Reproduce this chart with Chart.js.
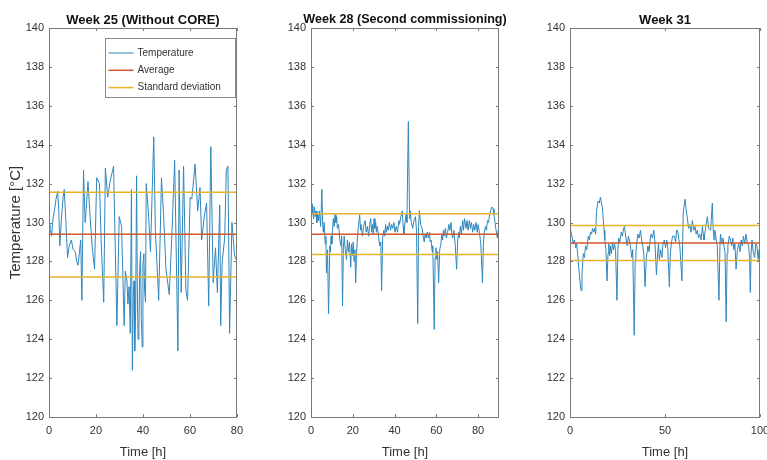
<!DOCTYPE html>
<html lang="en">
<head>
<meta charset="UTF-8">
<title>Temperature, weeks 25 / 28 / 31</title>
<script src="https://cdn.jsdelivr.net/npm/chart.js"></script>
<style>
  html, body { margin: 0; padding: 0; background: #fff; overflow: hidden; }
  body { width: 767px; height: 460px; position: relative; }
  .panel { position: absolute; top: 0; }
</style>
</head>
<body>
<div class="panel" style="left:0px"><canvas id="week25" width="250" height="460"></canvas></div>
<div class="panel" style="left:260px"><canvas id="week28" width="250" height="460"></canvas></div>
<div class="panel" style="left:520px"><canvas id="week31" width="260" height="460"></canvas></div>
<script>
// values
const week25Time = [0, 0.4, 1.1, 1.7, 2.3, 3.0, 3.7, 4.2, 4.6, 5.3, 6.0, 6.5, 7.2, 7.9, 8.6, 9.5, 10.3, 11.2, 11.8, 12.4,
  13.5, 14.0, 14.7, 15.4, 16.0, 16.6, 17.5, 18.5, 19.4, 20.3, 21.5, 22.2, 23.3, 24.0, 25.0, 26.0, 27.5, 28.9, 29.9, 30.9,
  32.0, 32.5, 33.2, 33.6, 34.1, 34.6, 35.1, 35.5, 35.9, 36.2, 36.5, 36.9, 37.3, 37.6, 37.9, 38.3, 38.6, 39.0, 39.3, 39.7,
  40.0, 40.4, 40.7, 41.1, 41.4, 42.3, 43.2, 44.6, 45.3, 46.7,
  47.9, 48.8, 49.8, 51.2, 52.4, 53.5, 54.9, 55.4, 56.3, 57.3, 58.3, 59.0, 60.1, 60.8, 62.2, 63.3, 64.3, 65.0, 66.1, 67.1,
  68.0, 68.9, 69.9, 70.9, 71.7, 72.7, 73.1, 73.7, 74.8, 75.5, 76.2, 76.9, 77.9, 79.0, 80.0];
const week25Temp = [129.9, 129.7, 129.3, 130.2, 130.6, 131.2, 131.6, 130.5, 128.8, 130.2, 131.3, 131.7, 130.0, 128.2, 128.8, 129.1, 128.6, 128.5, 128.0, 127.8,
  129.1, 126.0, 132.7, 130.0, 131.0, 132.1, 130.3, 128.6, 127.6, 132.3, 132.0, 129.1, 125.9, 132.8, 131.3, 132.1, 132.9, 124.7, 130.3, 129.8,
  124.7, 127.5, 127.0, 125.8, 126.7, 124.3, 131.7, 122.4, 126.2, 127.0, 123.4, 125.5, 132.4, 126.8, 124.0, 124.5, 127.5, 128.5, 125.0, 123.6,
  127.8, 128.4, 126.5, 125.9, 132.0, 130.6, 128.5, 134.4, 129.6, 126.0,
  132.3, 130.4, 127.6, 126.3, 129.6, 133.2, 123.4, 132.7, 126.4, 132.9, 126.5, 126.0, 131.3, 131.2, 133.0, 130.6, 131.8, 129.1, 130.3, 131.0,
  125.7, 133.9, 126.9, 128.7, 126.4, 130.9, 124.7, 127.9, 129.2, 132.7, 132.9, 124.3, 130.0, 128.3, 128.0];
const week25Avg = 129.4;
const week25SdHigh = 131.55;
const week25SdLow = 127.2;

const week28Time = [0, 0.4, 0.8, 1.2, 1.6, 2.0, 2.4, 2.8, 3.2, 3.6, 4.0, 4.6, 5.2, 5.6, 5.9, 6.3, 6.8, 7.1, 7.4, 7.9,
  8.4, 9.0, 9.3, 9.6, 10.0, 10.3, 10.7, 11.1, 11.5, 11.9, 12.3, 12.6, 13.2, 13.7, 14.3, 14.7, 15.1, 15.5, 15.9, 16.4,
  17.0, 17.4, 17.9, 18.4, 19.0, 19.4, 19.8, 20.2, 20.6, 21.0, 21.4, 21.8, 22.2, 22.7, 23.3, 23.7, 24.0, 24.6, 25.2, 25.9,
  26.4, 27.0, 27.6, 28.1, 28.6, 29.0, 29.4, 29.8, 30.2, 30.6, 31.0, 31.3, 31.7, 32.3, 32.9, 33.4, 33.8, 34.3, 34.9, 35.3,
  35.7, 36.1, 36.5, 37.0, 37.5, 38.1, 38.6, 39.1, 39.7, 40.2, 40.8, 41.4, 42.1, 42.4, 43.0, 43.7, 44.1, 44.5, 45.0, 45.5,
  45.9, 46.6, 47.2, 47.5, 48.0, 48.7, 49.3, 50.0, 50.5, 51.1, 51.5, 51.9, 52.5, 53.2, 53.7, 54.2, 54.6, 55.1, 55.6, 56.2,
  56.7, 57.1, 57.5, 58.0, 58.3, 59.0, 59.4, 59.8, 60.2, 60.6, 61.1, 61.6, 62.2, 62.6, 63.0, 63.4, 63.8, 64.3, 64.8, 65.4,
  66.0, 66.5, 67.0, 67.4, 67.8, 68.4, 69.0, 69.7, 70.2, 70.6, 71.0, 71.5, 72.0, 72.6, 73.0, 73.5, 74.2, 74.7, 75.2, 75.8,
  76.3, 76.8, 77.4, 77.9, 78.4, 79.0, 79.6, 80.0, 80.5, 81.3, 82.1, 82.5, 82.9, 83.5, 84.0, 84.5, 85.0, 85.5, 86.0, 86.5,
  87.2, 87.6, 88.1, 88.6, 89.2, 89.6, 90.0];
const week28Temp = [131.0, 130.4, 130.9, 130.2, 130.8, 130.3, 130.6, 130.0, 130.5, 130.1, 130.6, 129.8, 131.7, 129.9, 129.5, 130.0, 128.9, 129.3, 127.4, 128.6,
  125.3, 128.8, 128.5, 129.3, 128.9, 129.6, 130.2, 129.8, 130.4, 130.0, 130.3, 129.7, 129.9, 129.2, 128.8, 129.3, 125.7, 128.7, 129.3, 128.6,
  128.1, 129.1, 128.5, 129.0, 127.7, 128.9, 128.3, 129.0, 128.0, 128.6, 126.9, 128.4, 129.2, 129.8, 130.4, 129.6, 129.9, 129.3, 129.8, 130.1,
  129.5, 129.8, 129.3, 129.9, 130.2, 129.5, 129.9, 129.4, 130.2, 129.7, 130.0, 129.5, 129.8, 129.3, 128.8, 129.0, 126.5, 129.2, 129.6, 129.3,
  129.9, 129.5, 129.8, 129.6, 130.0, 129.6, 129.9, 129.7, 130.0, 129.5, 129.8, 129.5, 130.1, 129.9, 130.3, 130.6, 129.8, 129.4, 130.0, 130.4,
  130.0, 135.2, 130.2, 130.6, 130.0, 129.7, 130.1, 130.3, 129.6, 124.8, 129.8, 130.6, 129.9, 129.7, 129.3, 129.0, 129.4, 129.2, 129.5, 129.2,
  129.5, 129.0, 129.1, 128.5, 128.8, 124.5, 128.2, 128.7, 128.1, 128.5, 126.9, 128.6, 128.9, 129.4, 129.1, 129.6, 129.3, 129.7, 129.2, 129.5,
  129.9, 129.6, 130.0, 129.4, 129.2, 129.6, 128.9, 127.6, 129.0, 129.5, 129.2, 129.8, 129.4, 130.1, 129.6, 130.2, 129.7, 130.1, 129.6, 130.1,
  129.7, 130.0, 129.5, 129.9, 129.6, 130.0, 129.5, 129.9, 129.6, 128.9, 126.9, 128.8, 129.4, 129.8, 129.6, 130.1, 130.0, 130.4, 130.6, 130.8,
  130.7, 130.4, 130.0, 129.6, 129.2, 129.6, 129.5];
const week28Avg = 129.4;
const week28SdHigh = 130.45;
const week28SdLow = 128.35;

const week31Time = [0, 0.6, 1.2, 1.7, 2.3, 3.0, 3.5, 4.1, 4.7, 5.2, 5.8, 6.3, 7.0, 7.6, 8.2, 8.8, 9.6, 10.2, 10.8, 11.3,
  11.9, 12.5, 13.1, 13.5, 13.9, 14.4, 14.8, 15.4, 16.0, 16.6, 17.0, 17.4, 17.9, 18.3, 18.9, 19.5, 20.0, 20.4, 20.9, 21.3,
  21.8, 22.4, 22.9, 23.5, 24.0, 24.7, 25.2, 25.6, 26.2, 27.0, 27.6, 28.2, 28.7, 29.3, 30.1, 30.7, 31.3, 31.9, 32.5, 33.0,
  33.8, 34.3, 34.7, 35.2, 35.7, 36.4, 37.1, 37.7, 38.3, 38.9, 39.5, 40.2, 41.0, 41.6, 42.2, 42.7, 43.4, 44.1, 44.7, 45.5,
  46.1, 46.6, 47.0, 47.7, 48.4, 48.8, 49.6, 50.3, 50.9, 51.4, 52.3, 52.8, 53.3, 54.0, 54.9, 55.6, 56.1, 56.6, 57.2, 57.8,
  58.9, 59.3, 59.6, 60.1, 60.6, 61.2, 61.8, 62.4, 63.0, 63.7, 64.4, 65.1, 65.8, 66.4, 67.0, 67.6, 68.3, 69.0, 69.7, 70.1,
  70.5, 71.2, 72.3, 73.0, 74.0, 74.9, 75.3, 75.8, 76.2, 76.6, 77.1, 77.5, 78.4, 78.9, 79.2, 80.0, 80.5, 81.0, 81.6, 82.2,
  82.7, 83.1, 83.8, 84.5, 85.1, 85.7, 86.2, 86.8, 87.4, 88.1, 88.8, 89.5, 90.1, 90.6, 91.3, 91.9, 92.6, 93.2, 94.0, 94.5,
  94.9, 95.3, 95.8, 96.4, 97.2, 97.8, 98.4, 99.0, 99.5, 100];
const week31Temp = [129.8, 129.5, 129.2, 128.9, 129.1, 128.7, 128.9, 128.3, 127.6, 127.0, 126.5, 127.4, 128.4, 128.2, 128.8, 128.6, 129.3, 129.1, 129.5, 129.4,
  129.7, 129.5, 129.7, 129.4, 130.5, 130.9, 131.1, 131.0, 131.3, 131.0, 130.8, 130.3, 129.6, 129.1, 128.6, 127.0, 128.4, 128.9, 128.3, 128.8,
  128.4, 129.0, 128.6, 128.9, 128.5, 126.0, 128.6, 129.2, 129.0, 129.5, 129.3, 129.7, 129.8, 129.3, 128.8, 129.3, 129.1, 128.7, 128.2, 128.6,
  124.2, 128.0, 128.5, 129.0, 129.4, 129.2, 129.6, 129.1, 128.8, 128.3, 126.7, 128.2, 128.8, 128.5, 129.1, 129.4, 129.2, 129.6, 129.0, 127.3,
  128.4, 128.9, 128.1, 128.6, 128.2, 128.8, 129.1, 128.7, 129.1, 128.8, 126.7, 128.4, 128.9, 129.3, 129.3, 129.0, 129.6, 129.6, 129.2, 128.8,
  127.0, 129.0, 130.5, 130.9, 131.2, 130.6, 130.2, 129.7, 129.9, 129.5, 130.1, 129.6, 129.8, 129.4, 129.6, 129.2, 129.4, 129.1, 129.8, 129.4,
  129.1, 129.6, 130.3, 129.7, 129.6, 131.0, 129.8, 129.1, 129.6, 129.4, 129.0, 128.8, 126.0, 128.7, 129.4, 128.9, 129.2, 128.8, 128.5, 124.9,
  128.4, 128.8, 129.3, 129.1, 128.8, 129.2, 128.6, 128.9, 127.6, 128.6, 128.9, 128.5, 129.1, 128.8, 129.3, 128.9, 129.4, 129.0, 128.8, 128.2,
  126.4, 128.4, 129.1, 128.5, 128.2, 128.9, 128.8, 128.1, 128.6, 128.4];
const week31Avg = 128.95;
const week31SdHigh = 129.85;
const week31SdLow = 128.05;

const yTicks = [120, 122, 124, 126, 128, 130, 132, 134, 136, 138, 140];
const xTicks25 = [0, 20, 40, 60, 80];
const xTicks28 = [0, 20, 40, 60, 80];
const xTicks31 = [0, 50, 100];
const legendLabels = ['Temperature', 'Average', 'Standard deviation'];

const tempColor = '#2f86bd';
const avgColor = '#d4562a';
const sdColor = '#e8b22a';
const textColor = '#333333';
const boxColor = '#7a7a7a';
const fontFamily = "'Liberation Sans', Arial, sans-serif";

Chart.defaults.font.family = fontFamily;
Chart.defaults.color = textColor;

// MATLAB style box with inward ticks
const framePlugin = {
  id: 'frame',
  afterDatasetsDraw(chart) {
    const { ctx, chartArea: a, scales: { x, y } } = chart;
    ctx.save();
    ctx.strokeStyle = boxColor;
    ctx.lineWidth = 1;
    ctx.beginPath();
    x.ticks.forEach(t => {
      const px = Math.round(x.getPixelForValue(t.value)) + 0.5;
      ctx.moveTo(px, a.bottom); ctx.lineTo(px, a.bottom - 3);
      ctx.moveTo(px, a.top); ctx.lineTo(px, a.top + 3);
    });
    y.ticks.forEach(t => {
      const py = Math.round(y.getPixelForValue(t.value)) + 0.5;
      ctx.moveTo(a.left, py); ctx.lineTo(a.left + 3, py);
      ctx.moveTo(a.right, py); ctx.lineTo(a.right - 3, py);
    });
    ctx.stroke();
    ctx.strokeRect(Math.round(a.left) + 0.5, Math.round(a.top) + 0.5,
      Math.round(a.right - a.left) - 1, Math.round(a.bottom - a.top));
    ctx.restore();
  }
};

// panel title centred over the plot box (may run wider than the box)
const panelTitle = {
  id: 'panelTitle',
  afterDraw(chart, args, opts) {
    const { ctx, chartArea: a } = chart;
    ctx.save();
    ctx.font = 'bold ' + opts.size + 'px ' + fontFamily;
    ctx.fillStyle = '#111';
    ctx.textAlign = 'center';
    ctx.textBaseline = 'alphabetic';
    ctx.fillText(opts.text, (a.left + a.right) / 2, a.top - opts.lift);
    ctx.restore();
  }
};

// legend box inside the first panel
const boxLegend = {
  id: 'boxLegend',
  afterDraw(chart) {
    const { ctx, chartArea: a } = chart;
    const bx = Math.round(a.left) + 56.5, by = Math.round(a.top) + 10.5;
    const colors = [tempColor, avgColor, sdColor];
    ctx.save();
    ctx.fillStyle = '#fff';
    ctx.fillRect(bx, by, 130, 59);
    ctx.strokeStyle = '#8a8a8a';
    ctx.lineWidth = 1;
    ctx.strokeRect(bx, by, 130, 59);
    ctx.font = '10px ' + fontFamily;
    ctx.textBaseline = 'middle';
    legendLabels.forEach((lbl, i) => {
      const ry = by + 14.5 + i * 17.3;
      ctx.strokeStyle = colors[i];
      ctx.lineWidth = i === 0 ? 1 : 1.5;
      ctx.beginPath();
      ctx.moveTo(bx + 3, ry); ctx.lineTo(bx + 28, ry);
      ctx.stroke();
      ctx.fillStyle = textColor;
      ctx.fillText(lbl, bx + 32, ry);
    });
    ctx.restore();
  }
};

function makePanel(id, title, titleSize, titleLift, times, temps, avg, sdHigh, sdLow, xMax, xTicks, yWidth, rightPad, first) {
  const flat = (v, lbl, color, order) => ({
    label: lbl, data: [{ x: 0, y: v }, { x: xMax, y: v }],
    borderColor: color, borderWidth: 1.5, pointRadius: 0, order: order
  });
  return new Chart(document.getElementById(id), {
    type: 'line',
    data: {
      datasets: [
        { label: 'Temperature', data: times.map((t, i) => ({ x: t, y: temps[i] })),
          borderColor: tempColor, borderWidth: 1, pointRadius: 0, tension: 0, order: 3 },
        flat(avg, 'Average', avgColor, 2),
        flat(sdHigh, 'Standard deviation', sdColor, 1),
        flat(sdLow, 'Standard deviation', sdColor, 1)
      ]
    },
    options: {
      responsive: false,
      animation: false,
      layout: { padding: { left: 0, right: rightPad, top: 28, bottom: 0 } },
      plugins: {
        legend: { display: false },
        tooltip: { enabled: false },
        title: { display: false },
        panelTitle: { text: title, size: titleSize, lift: titleLift }
      },
      scales: {
        x: {
          type: 'linear', min: 0, max: xMax,
          afterBuildTicks: s => { s.ticks = xTicks.map(v => ({ value: v })); },
          afterFit: s => { s.height = 43; },
          grid: { display: false, drawTicks: false }, border: { display: false },
          ticks: { font: { size: 11 }, padding: 7, maxRotation: 0, autoSkip: false },
          title: { display: true, text: 'Time [h]', font: { size: 13 }, padding: { top: 0, bottom: 0 } }
        },
        y: {
          min: 120, max: 140,
          afterBuildTicks: s => { s.ticks = yTicks.map(v => ({ value: v })); },
          afterFit: s => { s.width = yWidth; },
          grid: { display: false, drawTicks: false }, border: { display: false },
          ticks: { font: { size: 11 }, padding: 5, autoSkip: false },
          title: { display: first, text: 'Temperature [°C]', font: { size: 15 }, padding: { top: 6.5, bottom: 0 } }
        }
      }
    },
    plugins: first ? [framePlugin, panelTitle, boxLegend] : [framePlugin, panelTitle]
  });
}

makePanel('week25', 'Week 25 (Without CORE)', 13, 4, week25Time, week25Temp, week25Avg, week25SdHigh, week25SdLow, 80, xTicks25, 49, 11, true);
makePanel('week28', 'Week 28 (Second commissioning)', 12.6, 5, week28Time, week28Temp, week28Avg, week28SdHigh, week28SdLow, 90, xTicks28, 51, 11, false);
makePanel('week31', 'Week 31', 13, 4, week31Time, week31Temp, week31Avg, week31SdHigh, week31SdLow, 100, xTicks31, 50, 20, false);
</script>
</body>
</html>
